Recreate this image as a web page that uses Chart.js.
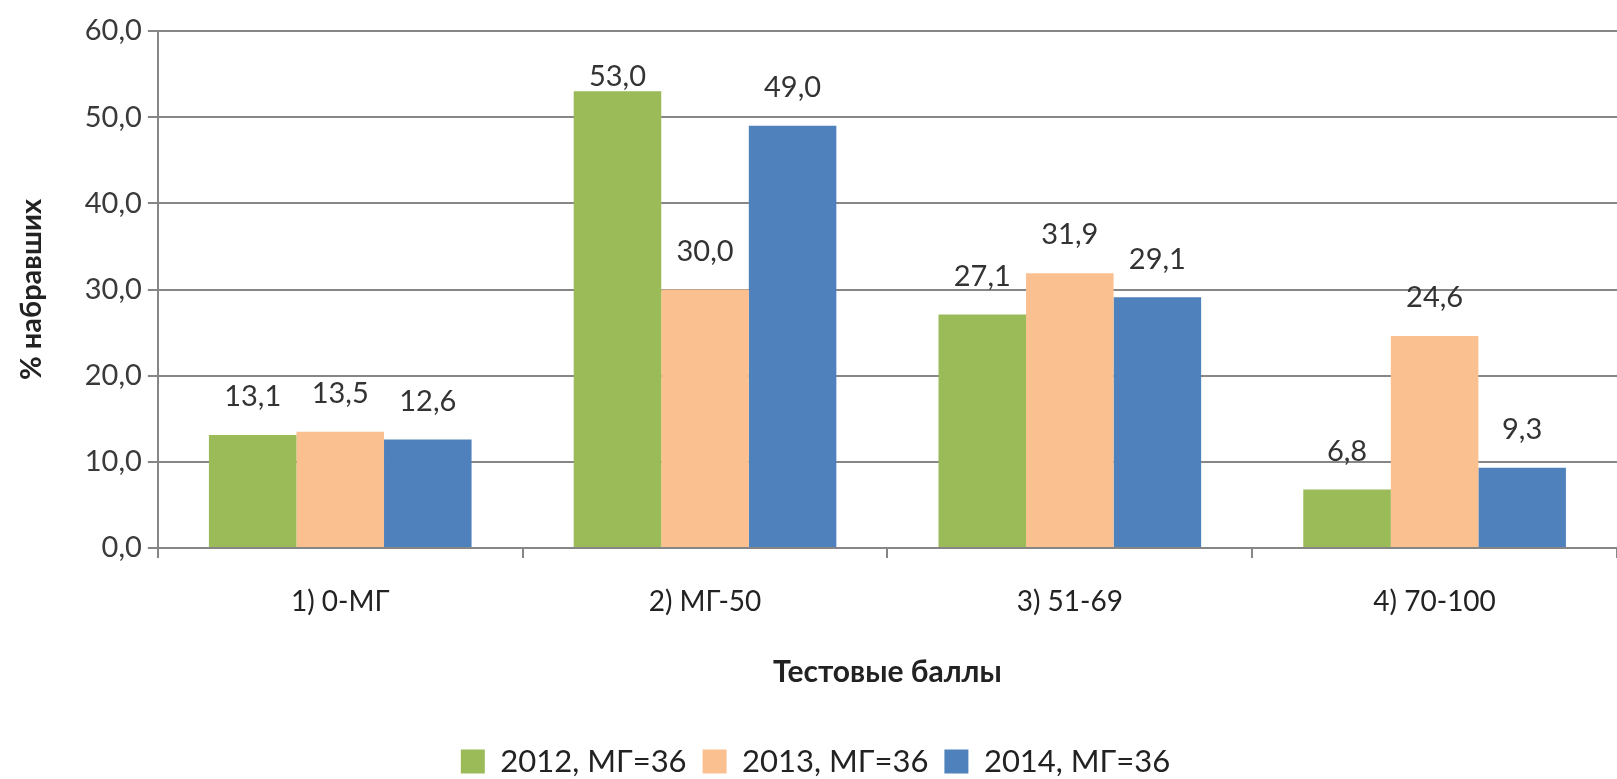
<!DOCTYPE html>
<html>
<head>
<meta charset="utf-8">
<script src="https://cdn.jsdelivr.net/npm/chart.js@4"></script>
<style>
  html, body { margin: 0; padding: 0; background: #fff; overflow: hidden; }
  #wrap { position: relative; width: 1617px; height: 791px; }
</style>
</head>
<body>
<div id="wrap"><canvas id="chart"></canvas></div>
<script>
// categories and series
const categories = ['1) 0-МГ', '2) МГ-50', '3) 51-69', '4) 70-100'];
const seriesNames = ['2012, МГ=36', '2013, МГ=36', '2014, МГ=36'];
const values2012 = [13.1, 53.0, 27.1, 6.8];
const values2013 = [13.5, 30.0, 31.9, 24.6];
const values2014 = [12.6, 49.0, 29.1, 9.3];
const yTicks = [0, 10, 20, 30, 40, 50, 60];

const colors = ['#9bbb59', '#fac08f', '#4f81bd'];
const textColor = '#3a3a3a';
const fontFamily = 'Lato, "Noto Sans", sans-serif';

function fmt(v) {
  return Number(v).toFixed(1).replace('.', ',');
}

// value labels above each bar
const valueLabels = {
  id: 'valueLabels',
  afterDatasetsDraw(chart) {
    const ctx = chart.ctx;
    const area = chart.chartArea;
    ctx.save();
    ctx.font = '29px ' + fontFamily;
    ctx.fillStyle = '#333';
    ctx.textAlign = 'center';
    ctx.textBaseline = 'middle';
    chart.data.datasets.forEach((ds, i) => {
      chart.getDatasetMeta(i).data.forEach((bar, j) => {
        const y = Math.max(bar.y - 38, area.top + 46);
        ctx.fillText(fmt(ds.data[j]), bar.x, y);
      });
    });
    ctx.restore();
  }
};

const seriesValues = [values2012, values2013, values2014];

new Chart(document.getElementById('chart').getContext('2d'), {
  type: 'bar',
  data: {
    labels: categories,
    datasets: seriesNames.map((name, i) => ({
      label: name,
      data: seriesValues[i],
      backgroundColor: colors[i],
      borderWidth: 0,
      categoryPercentage: 0.72,
      barPercentage: 1.0,
    })),
  },
  options: {
    responsive: true,
    maintainAspectRatio: false,
    animation: false,
    layout: { padding: { top: 31, right: 0, left: 14, bottom: 4 } },
    plugins: {
      tooltip: { enabled: false },
      legend: {
        position: 'bottom',
        labels: {
          color: '#222',
          font: { family: fontFamily, size: 31 },
          boxWidth: 24,
          boxHeight: 24,
          padding: 16,
        },
      },
    },
    scales: {
      x: {
        offset: true,
        grid: {
          offset: true,
          drawOnChartArea: false,
          drawTicks: true,
          tickLength: 10,
          color: '#868686',
          lineWidth: 2,
        },
        border: { display: true, color: '#868686', width: 2 },
        ticks: {
          color: '#222',
          font: { family: fontFamily, size: 28, lineHeight: 1 },
          padding: 30,
        },
        title: {
          display: true,
          text: 'Тестовые баллы',
          color: '#222',
          font: { family: fontFamily, size: 30, weight: 'bold', lineHeight: 1 },
          padding: { top: 11, bottom: 43 },
        },
      },
      y: {
        min: 0,
        max: 60,
        afterBuildTicks(axis) {
          axis.ticks = yTicks.map(v => ({ value: v }));
        },
        grid: {
          color: '#868686',
          lineWidth: 2,
          tickLength: 10,
        },
        border: { display: true, color: '#868686', width: 2 },
        ticks: {
          color: textColor,
          font: { family: fontFamily, size: 29 },
          padding: 6,
          callback: (v) => fmt(v),
        },
        title: {
          display: true,
          text: '% набравших',
          color: '#222',
          font: { family: fontFamily, size: 29, weight: 'bold' },
          padding: { top: 0, bottom: 30 },
        },
      },
    },
  },
  plugins: [valueLabels],
});
</script>
</body>
</html>
